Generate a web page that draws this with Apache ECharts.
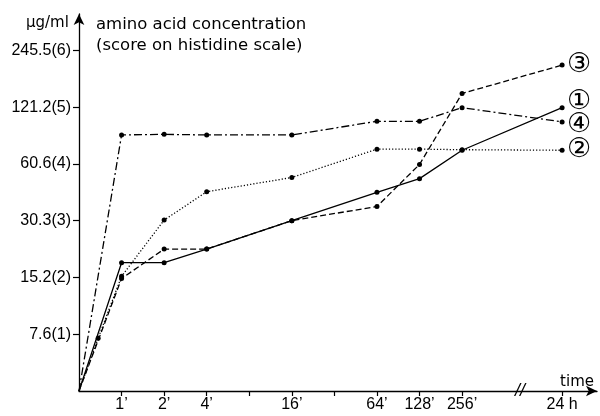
<!DOCTYPE html>
<html>
<head>
<meta charset="utf-8">
<script src="https://cdn.jsdelivr.net/npm/echarts@6/dist/echarts.min.js"></script>
<style>
html,body{margin:0;padding:0;background:#fff;}
#chart{width:600px;height:416px;}
</style>
</head>
<body>
<div id="chart"></div>
<script>
// time points: position on a log2 time scale (origin = 0)
const timeLabels = ['1\u2019', '2\u2019', '4\u2019', '', '16\u2019', '', '64\u2019', '128\u2019', '256\u2019', '24 h'];
const timePos    = [1, 2, 3, 4, 5, 6, 7, 8, 9, 11.35];
// sample times for the series (origin, 1', 2', 4', 16', 64', 128', 256', 24h)
const sampleX = [0, 1, 2, 3, 5, 7, 8, 9, 11.35];
// y axis: score on histidine scale and concentration labels
const scoreTicks  = [1, 2, 3, 4, 5, 6];
const scoreLabels = ['7.6(1)', '15.2(2)', '30.3(3)', '60.6(4)', '121.2(5)', '245.5(6)'];
// series values (score)
const s1 = [0, 2.26, 2.26, 2.50, 3.00, 3.50, 3.74, 4.24, 4.99];
const s2X = [0, 0.45, 1, 2, 3, 5, 7, 8, 9, 11.35];
const s2 = [0, 0.93, 2.02, 3.01, 3.51, 3.76, 4.26, 4.26, 4.25, 4.24];
const s3 = [0, 1.98, 2.50, 2.50, 3.00, 3.25, 3.99, 5.24, 5.74];
const s4 = [0, 4.51, 4.52, 4.51, 4.51, 4.75, 4.75, 4.99, 4.74];
const seriesNames = ['\u2460', '\u2461', '\u2462', '\u2463'];
const breakPos = 10.36;

const FONT = 'Liberation Sans';
const FONT2 = 'DejaVu Sans';
const chart = echarts.init(document.getElementById('chart'), null, {renderer: 'canvas'});

function pts(xs, ys) {
  return ys.map((y, i) => i === 0 ? {value: [xs[i], y], symbol: 'none'} : [xs[i], y]);
}
function mkSeries(name, xs, ys, lineType, labelOffsetY) {
  return {
    type: 'line', name: name,
    data: pts(xs, ys),
    symbol: 'circle', symbolSize: 5,
    itemStyle: {color: '#000'},
    lineStyle: {color: '#000', width: 1.3, type: lineType},
    animation: false,
    endLabel: {
      show: true, formatter: name, color: '#000',
      fontFamily: FONT2, fontSize: 27, distance: 5,
      offset: [0, labelOffsetY]
    }
  };
}

const series = [
  mkSeries(seriesNames[0], sampleX, s1, 'solid', -6),
  mkSeries(seriesNames[1], s2X, s2, [1.2, 2], 0),
  mkSeries(seriesNames[2], sampleX, s3, [6, 3], 0),
  mkSeries(seriesNames[3], sampleX, s4, [8, 3, 2, 3], 3)
];
series.push({
  type: 'line', data: [], silent: true,
  markPoint: {
    symbol: 'circle', symbolSize: 0, animation: false,
    data: [{coord: [breakPos, 0],
      label: {show: true, formatter: '//', color: '#000', fontFamily: FONT,
        fontSize: 18, fontStyle: 'italic', position: 'inside'}}]
  }
});

chart.setOption({
  backgroundColor: '#fff',
  animation: false,
  grid: {left: 79, right: 3, top: 14, bottom: 25, containLabel: false},
  title: [
    {text: '\u00b5g/ml', left: 21, top: 11, textStyle: {fontFamily: FONT2, fontSize: 15, fontWeight: 'normal', color: '#000'}},
    {text: 'amino acid concentration\n(score on histidine scale)', left: 91, top: 9,
      textStyle: {fontFamily: FONT2, fontSize: 16.5, fontWeight: 'normal', color: '#000', lineHeight: 21}},
    {text: 'time', right: 1, top: 370, textStyle: {fontFamily: FONT2, fontSize: 15, fontWeight: 'normal', color: '#000'}}
  ],
  xAxis: {
    type: 'value', min: 0, max: 12.17, interval: 1,
    splitLine: {show: false},
    axisLine: {show: true, onZero: false, symbol: ['none', 'arrow'], symbolSize: [8, 11], lineStyle: {color: '#000', width: 1.3}},
    axisTick: {show: true, customValues: timePos, length: 5, lineStyle: {color: '#000', width: 1.2}},
    axisLabel: {
      customValues: timePos, margin: 6, color: '#000', fontFamily: FONT, fontSize: 16,
      formatter: v => { const i = timePos.findIndex(p => Math.abs(p - v) < 1e-6); return i >= 0 ? timeLabels[i] : ''; }
    }
  },
  yAxis: {
    type: 'value', min: 0, max: 6.64, interval: 1,
    splitLine: {show: false},
    axisLine: {show: true, symbol: ['none', 'arrow'], symbolSize: [8, 11], lineStyle: {color: '#000', width: 1.3}},
    axisTick: {show: true, customValues: scoreTicks, length: 6, lineStyle: {color: '#000', width: 1.2}},
    axisLabel: {
      customValues: scoreTicks, margin: 8, color: '#000', fontFamily: FONT, fontSize: 16,
      formatter: v => { const i = scoreTicks.indexOf(Math.round(v)); return i >= 0 ? scoreLabels[i] : ''; }
    }
  },
  series: series
});
</script>
</body>
</html>
